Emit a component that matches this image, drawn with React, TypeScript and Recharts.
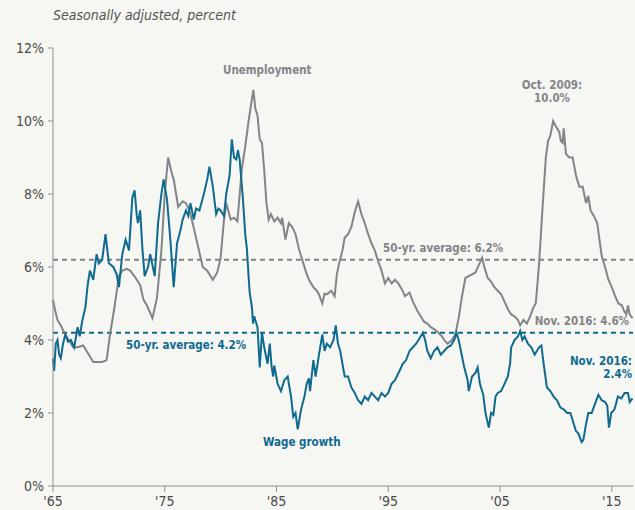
import { FC, CSSProperties } from 'react';
import {
  LineChart,
  Line,
  XAxis,
  YAxis,
  ReferenceLine,
} from 'recharts';

// Unemployment rate, %
const unemploymentYears = [
  1965.0, 1965.2, 1965.4, 1965.7, 1966.0, 1966.4, 1966.8, 1967.2, 1967.7, 1968.2,
  1968.6, 1969.0, 1969.4, 1969.8, 1970.1, 1970.5, 1970.9, 1971.2, 1971.6, 1971.9,
  1972.4, 1972.8, 1973.1, 1973.4, 1973.9, 1974.3, 1974.7, 1975.0, 1975.3, 1975.6,
  1975.8, 1976.2, 1976.6, 1976.9, 1977.2, 1977.5, 1977.8, 1978.1, 1978.4, 1978.8,
  1979.3, 1979.7, 1980.0, 1980.3, 1980.5, 1980.9, 1981.2, 1981.5, 1981.9, 1982.2,
  1982.5, 1982.75, 1982.93, 1983.1, 1983.3, 1983.5, 1983.7, 1983.9, 1984.1, 1984.3,
  1984.5, 1984.8, 1985.1, 1985.4, 1985.5, 1985.8, 1986.1, 1986.4, 1986.7, 1987.0,
  1987.3, 1987.6, 1987.9, 1988.3, 1988.6, 1988.8, 1989.1, 1989.3, 1989.5, 1989.9,
  1990.2, 1990.4, 1990.6, 1990.9, 1991.1, 1991.4, 1991.7, 1992.0, 1992.3, 1992.6,
  1992.9, 1993.2, 1993.5, 1993.8, 1994.1, 1994.4, 1994.7, 1995.0, 1995.3, 1995.6,
  1995.9, 1996.2, 1996.5, 1996.9, 1997.2, 1997.6, 1997.9, 1998.2, 1998.5, 1998.8,
  1999.1, 1999.5, 1999.8, 2000.0, 2000.3, 2000.7, 2001.0, 2001.3, 2001.6, 2001.9,
  2002.2, 2002.5, 2002.8, 2003.1, 2003.4, 2003.6, 2003.9, 2004.2, 2004.5, 2004.8,
  2005.1, 2005.4, 2005.7, 2006.0, 2006.3, 2006.6, 2006.8, 2007.1, 2007.4, 2007.7,
  2008.0, 2008.2, 2008.5, 2008.8, 2009.1, 2009.3, 2009.5, 2009.75, 2010.0, 2010.3,
  2010.45, 2010.6, 2010.7, 2010.9, 2011.2, 2011.5, 2011.8, 2012.1, 2012.4, 2012.7,
  2012.9, 2013.1, 2013.4, 2013.7, 2013.9, 2014.1, 2014.4, 2014.7, 2015.0, 2015.3,
  2015.6, 2015.9, 2016.1, 2016.3, 2016.45, 2016.6, 2016.85,
];
const unemploymentRates = [
  5.1, 4.8, 4.55, 4.4, 4.2, 4.0, 3.8, 3.8, 3.85, 3.6,
  3.4, 3.4, 3.4, 3.45, 4.15, 4.9, 5.75, 5.9, 5.95, 5.9,
  5.7, 5.5, 5.1, 4.95, 4.6, 5.15, 6.45, 8.0, 9.0, 8.6,
  8.4, 7.65, 7.8, 7.75, 7.55, 7.2, 6.8, 6.4, 6.0, 5.9,
  5.65, 5.85, 6.25, 7.3, 7.75, 7.3, 7.35, 7.25, 8.7, 9.3,
  10.0, 10.5, 10.85, 10.35, 10.15, 9.5, 9.4, 8.65, 7.75, 7.3,
  7.45, 7.25, 7.35, 7.2, 7.35, 6.75, 7.2, 7.1, 6.9, 6.5,
  6.2, 5.9, 5.65, 5.45, 5.35, 5.25, 5.0, 5.27, 5.25, 5.35,
  5.2, 5.8, 6.1, 6.45, 6.8, 6.9, 7.1, 7.5, 7.8, 7.45,
  7.2, 6.9, 6.65, 6.45, 6.15, 5.9, 5.55, 5.7, 5.55, 5.65,
  5.55, 5.4, 5.2, 5.3, 5.05, 4.8, 4.65, 4.5, 4.45, 4.35,
  4.3, 4.2, 4.1, 4.0, 3.9, 4.0, 4.15, 4.6, 5.2, 5.7,
  5.75, 5.8, 5.85, 6.05, 6.25, 6.0, 5.7, 5.6, 5.45, 5.35,
  5.25, 5.05, 4.85, 4.7, 4.65, 4.55, 4.4, 4.55, 4.45, 4.65,
  4.9, 5.0, 6.1, 7.6, 9.0, 9.45, 9.6, 10.0, 9.85, 9.7,
  9.45, 9.4, 9.8, 9.1, 9.0, 9.0, 8.5, 8.2, 8.2, 7.75,
  7.95, 7.55, 7.4, 7.2, 6.75, 6.3, 6.0, 5.65, 5.45, 5.2,
  5.0, 4.95, 4.8, 4.7, 4.95, 4.7, 4.6,
];

// Wage growth, % y/y
const wageYears = [
  1965.0, 1965.1, 1965.25, 1965.4, 1965.55, 1965.7, 1965.9, 1966.1, 1966.35, 1966.6,
  1966.9, 1967.2, 1967.4, 1967.6, 1967.9, 1968.1, 1968.3, 1968.6, 1968.9, 1969.1,
  1969.4, 1969.7, 1970.0, 1970.4, 1970.7, 1970.9, 1971.2, 1971.5, 1971.8, 1972.1,
  1972.3, 1972.5, 1972.6, 1972.8, 1973.0, 1973.2, 1973.5, 1973.7, 1974.0, 1974.1,
  1974.4, 1974.7, 1974.9, 1975.2, 1975.5, 1975.8, 1976.1, 1976.4, 1976.6, 1976.9,
  1977.1, 1977.3, 1977.6, 1977.8, 1978.1, 1978.5, 1978.8, 1979.0, 1979.3, 1979.6,
  1979.8, 1980.0, 1980.3, 1980.5, 1980.8, 1981.0, 1981.2, 1981.4, 1981.55, 1981.7,
  1982.0, 1982.2, 1982.35, 1982.5, 1982.6, 1982.8, 1982.9, 1983.0, 1983.3, 1983.5,
  1983.7, 1983.9, 1984.2, 1984.4, 1984.55, 1984.7, 1984.8, 1985.1, 1985.4, 1985.7,
  1986.0, 1986.3, 1986.5, 1986.7, 1986.9, 1987.2, 1987.5, 1987.7, 1987.9, 1988.0,
  1988.3, 1988.5, 1988.8, 1989.1, 1989.3, 1989.5, 1989.8, 1990.1, 1990.3, 1990.5,
  1990.7, 1990.9, 1991.1, 1991.4, 1991.7, 1992.0, 1992.3, 1992.6, 1992.9, 1993.2,
  1993.5, 1993.8, 1994.1, 1994.4, 1994.7, 1995.0, 1995.3, 1995.6, 1996.0, 1996.3,
  1996.6, 1996.9, 1997.2, 1997.5, 1997.8, 1998.1, 1998.3, 1998.5, 1998.8, 1999.1,
  1999.4, 1999.7, 2000.0, 2000.3, 2000.6, 2000.9, 2001.1, 2001.3, 2001.5, 2001.8,
  2002.1, 2002.2, 2002.5, 2002.8, 2003.0, 2003.2, 2003.5, 2003.7, 2004.0, 2004.2,
  2004.4, 2004.6, 2004.8, 2005.1, 2005.4, 2005.7, 2005.9, 2006.0, 2006.3, 2006.6,
  2006.8, 2007.0, 2007.2, 2007.5, 2007.8, 2008.1, 2008.3, 2008.5, 2008.7, 2008.9,
  2009.2, 2009.5, 2009.8, 2010.1, 2010.4, 2010.7, 2011.0, 2011.3, 2011.6, 2011.8,
  2012.0, 2012.3, 2012.45, 2012.7, 2012.9, 2013.2, 2013.5, 2013.8, 2014.1, 2014.4,
  2014.6, 2014.75, 2014.95, 2015.25, 2015.55, 2015.85, 2016.15, 2016.45, 2016.6, 2016.85,
];
const wageGrowth = [
  3.5, 3.15, 3.9, 4.0, 3.6, 3.5, 3.9, 4.15, 3.95, 4.0,
  3.8, 4.35, 4.1, 4.5, 4.9, 5.5, 5.9, 5.65, 6.35, 6.1,
  6.2, 6.9, 6.1, 6.0, 5.8, 5.45, 6.35, 6.75, 6.45, 7.9,
  8.1, 7.4, 7.2, 7.55, 6.5, 5.75, 6.0, 6.35, 5.9, 5.75,
  7.2, 8.0, 8.4, 7.85, 6.75, 5.45, 6.65, 7.0, 7.3, 7.55,
  7.4, 7.75, 7.3, 7.6, 7.55, 8.0, 8.4, 8.75, 8.2, 7.45,
  7.6, 7.55, 7.4, 8.0, 8.5, 9.5, 9.0, 8.95, 9.2, 8.95,
  7.85, 6.9, 6.5, 5.75, 5.3, 4.9, 4.45, 4.65, 4.35, 3.25,
  4.2, 3.8, 3.35, 3.9, 3.3, 3.0, 3.3, 2.8, 2.6, 2.9,
  3.0, 2.45, 1.9, 2.0, 1.55, 2.1, 2.45, 2.8, 2.95, 2.6,
  3.45, 3.0, 3.6, 4.15, 3.7, 3.9, 3.8, 4.0, 4.4, 3.9,
  3.7, 3.35, 3.0, 3.0, 2.7, 2.55, 2.35, 2.25, 2.45, 2.35,
  2.55, 2.45, 2.35, 2.55, 2.45, 2.55, 2.8, 2.9, 3.15, 3.35,
  3.45, 3.7, 3.8, 3.9, 4.05, 4.2, 4.0, 3.7, 3.5, 3.7,
  3.8, 3.6, 3.7, 3.8, 3.85, 4.0, 4.2, 4.0, 3.7, 3.25,
  2.9, 2.6, 3.0, 3.1, 3.25, 2.8, 2.5, 2.0, 1.6, 2.0,
  1.95, 2.45, 2.55, 2.6, 2.8, 3.0, 3.35, 3.8, 4.0, 4.1,
  4.25, 4.0, 4.1, 3.9, 3.8, 3.6, 3.7, 3.8, 3.85, 3.35,
  2.7, 2.6, 2.45, 2.35, 2.15, 2.1, 2.0, 2.0, 1.7, 1.5,
  1.45, 1.2, 1.25, 1.7, 2.0, 2.0, 2.25, 2.5, 2.35, 2.3,
  2.2, 1.6, 2.0, 2.1, 2.45, 2.4, 2.55, 2.55, 2.3, 2.4,
];

const yearTicks = [1965, 1975, 1985, 1995, 2005, 2015];
const percentTicks = [0, 2, 4, 6, 8, 10, 12];
const unemploymentAverage = 6.2;
const wageAverage = 4.2;

const unemploymentData = unemploymentYears.map((year, i) => ({ year, value: unemploymentRates[i] }));
const wageData = wageYears.map((year, i) => ({ year, value: wageGrowth[i] }));

const GRAY = '#838487';
const BLUE = '#0f6a90';
const AXIS = '#8f8f8f';
const FONT = '"DejaVu Sans Condensed", "DejaVu Sans", sans-serif';

// small bold annotation; pass either left or right
const note = (pos: { left?: number; right?: number; top: number }, color: string, align = 'left'): CSSProperties => ({
  position: 'absolute',
  ...pos,
  color,
  fontFamily: FONT,
  fontWeight: 700,
  fontSize: 11.5,
  lineHeight: '13px',
  textAlign: align as CSSProperties['textAlign'],
  whiteSpace: 'nowrap',
});

const App: FC = () => {
  return (
    <div
      style={{
        position: 'absolute',
        left: 0,
        top: 0,
        width: 635,
        height: 510,
        background: '#f6f6f2',
        fontFamily: FONT,
      }}
    >
      <LineChart width={635} height={510} margin={{ top: 48, right: 2, left: 8, bottom: 0 }}>
        <XAxis
          dataKey="year"
          type="number"
          domain={[1965, 2016.9]}
          ticks={yearTicks}
          tickFormatter={(v: number) => `'${String(v).slice(2)}`}
          allowDuplicatedCategory={false}
          stroke={AXIS}
          tickSize={6}
          tickMargin={4}
          height={24}
          tick={{ fill: '#4a4a4a', fontSize: 14 }}
        />
        <YAxis
          type="number"
          domain={[0, 12]}
          ticks={percentTicks}
          tickFormatter={(v: number) => `${v}%`}
          stroke={AXIS}
          tickSize={5}
          tickMargin={4}
          width={45}
          tick={{ fill: '#4a4a4a', fontSize: 14 }}
        />
        <ReferenceLine y={unemploymentAverage} stroke={GRAY} strokeWidth={2} strokeDasharray="5 4" />
        <ReferenceLine y={wageAverage} stroke={BLUE} strokeWidth={2} strokeDasharray="5 4" />
        <Line
          data={unemploymentData}
          dataKey="value"
          type="linear"
          stroke={GRAY}
          strokeWidth={2}
          dot={false}
          isAnimationActive={false}
        />
        <Line
          data={wageData}
          dataKey="value"
          type="linear"
          stroke={BLUE}
          strokeWidth={2}
          dot={false}
          isAnimationActive={false}
        />
      </LineChart>

      <div
        style={{
          position: 'absolute',
          left: 53,
          top: 7,
          fontStyle: 'italic',
          fontSize: 14,
          color: '#555',
          fontFamily: FONT,
          whiteSpace: 'nowrap',
        }}
      >
        Seasonally adjusted, percent
      </div>

      <div style={note({ left: 223, top: 64 }, GRAY)}>Unemployment</div>
      <div style={{ ...note({ left: 512, top: 79 }, GRAY, 'center'), width: 80 }}>
        Oct. 2009:
        <br />
        10.0%
      </div>
      <div style={note({ left: 383, top: 242 }, GRAY)}>50-yr. average: 6.2%</div>
      <div style={note({ right: 6, top: 315 }, GRAY)}>Nov. 2016: 4.6%</div>
      <div style={note({ left: 126, top: 339 }, BLUE)}>50-yr. average: 4.2%</div>
      <div style={note({ right: 3, top: 355 }, BLUE, 'right')}>
        Nov. 2016:
        <br />
        2.4%
      </div>
      <div style={note({ left: 263, top: 436 }, BLUE)}>Wage growth</div>
    </div>
  );
};

export default App;
